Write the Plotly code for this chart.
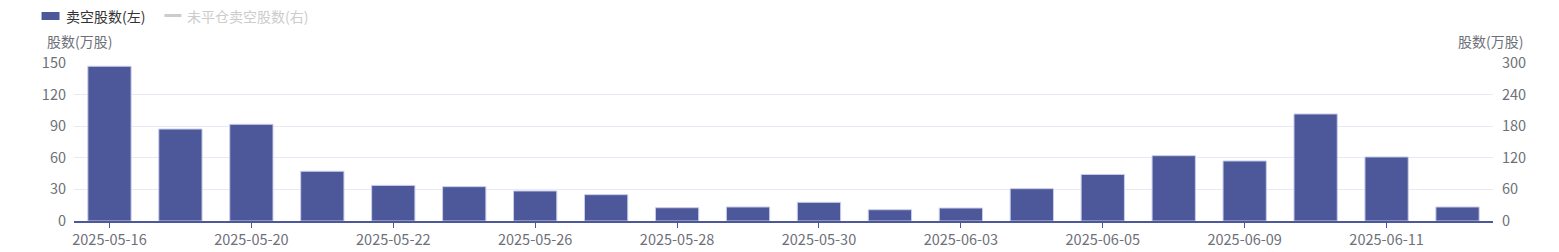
import plotly.graph_objects as go

dates = ["2025-05-16", "2025-05-19", "2025-05-20", "2025-05-21", "2025-05-22",
         "2025-05-23", "2025-05-26", "2025-05-27", "2025-05-28", "2025-05-29",
         "2025-05-30", "2025-06-02", "2025-06-03", "2025-06-04", "2025-06-05",
         "2025-06-06", "2025-06-09", "2025-06-10", "2025-06-11", "2025-06-12"]
short_volume = [146.9, 87.3, 91.8, 47.2, 33.8, 32.6, 28.5, 25.0, 12.6, 13.3,
                17.7, 10.7, 12.3, 30.7, 44.2, 62.0, 57.0, 101.6, 60.8, 13.3]
open_short_volume = [None] * len(dates)  # series hidden in the reference (legend toggled off)

left_ticks = [0, 30, 60, 90, 120, 150]
right_ticks = [0, 60, 120, 180, 240, 300]
label_dates = dates[::2]

BAR = "#4c5899"
GRID = "#e9e9f5"
TXT = "#6e7079"
FONT = "Noto Sans CJK SC"

W, H = 1559, 252
L, R, T, B = 73.5, 65.5, 63, 31
pw, ph = W - L - R, H - T - B


def px(x):
    return (x - L) / pw


def py(y):
    return (H - B - y) / ph


fig = go.Figure()
fig.add_trace(go.Bar(
    x=dates, y=short_volume, name="卖空股数(左)",
    marker=dict(color=BAR, line=dict(color="#c9cdea", width=1)),
    showlegend=False, hoverinfo="x+y",
))
fig.add_trace(go.Scatter(
    x=dates, y=open_short_volume, name="未平仓卖空股数(右)", yaxis="y2",
    mode="lines", line=dict(color="#cccccc"), showlegend=False,
))

fig.update_layout(
    width=W, height=H,
    margin=dict(l=L, r=R, t=T, b=B, pad=0),
    paper_bgcolor="white", plot_bgcolor="white",
    font=dict(family=FONT, size=14, color=TXT),
    bargap=0.39,
    xaxis=dict(
        type="category", range=[-0.5, len(dates) - 0.5],
        tickvals=label_dates, ticktext=label_dates,
        ticks="outside", ticklen=5, tickwidth=1, tickcolor=BAR,
        showline=True, linecolor=BAR, linewidth=2,
        showgrid=False, zeroline=False, automargin=False,
        tickfont=dict(family=FONT, size=14.5, color=TXT),
    ),
    yaxis=dict(
        range=[0, 150], tickvals=left_ticks,
        showgrid=True, gridcolor=GRID, gridwidth=1,
        zeroline=False, showline=False, ticks="", automargin=False,
        ticklabelstandoff=7,
        tickfont=dict(family=FONT, size=14.5, color=TXT),
    ),
    yaxis2=dict(
        overlaying="y", side="right",
        range=[0, 300], tickvals=right_ticks,
        showgrid=False, zeroline=False, showline=False, ticks="", automargin=False,
        ticklabelstandoff=8,
        tickfont=dict(family=FONT, size=14.5, color=TXT),
    ),
    showlegend=False,
)

# legend (drawn manually to match the reference layout)
fig.add_shape(type="rect", xref="paper", yref="paper",
              x0=px(41), x1=px(59), y0=py(12), y1=py(20),
              fillcolor=BAR, line=dict(width=0))
fig.add_annotation(xref="paper", yref="paper", x=px(63), y=py(16),
                   text="卖空股数(左)", showarrow=False,
                   xanchor="left", yanchor="middle",
                   font=dict(family=FONT, size=14, color="#333333"))
fig.add_shape(type="line", xref="paper", yref="paper",
              x0=px(164), x1=px(181), y0=py(15.5), y1=py(15.5),
              line=dict(color="#cccccc", width=3))
fig.add_annotation(xref="paper", yref="paper", x=px(185), y=py(16),
                   text="未平仓卖空股数(右)", showarrow=False,
                   xanchor="left", yanchor="middle",
                   font=dict(family=FONT, size=14, color="#cccccc"))

# axis names
fig.add_annotation(xref="paper", yref="paper", x=px(44), y=py(41),
                   text="股数(万股)", showarrow=False,
                   xanchor="left", yanchor="middle",
                   font=dict(family=FONT, size=14, color=TXT))
fig.add_annotation(xref="paper", yref="paper", x=px(1526), y=py(41),
                   text="股数(万股)", showarrow=False,
                   xanchor="right", yanchor="middle",
                   font=dict(family=FONT, size=14, color=TXT))

fig.write_html("out.html")
